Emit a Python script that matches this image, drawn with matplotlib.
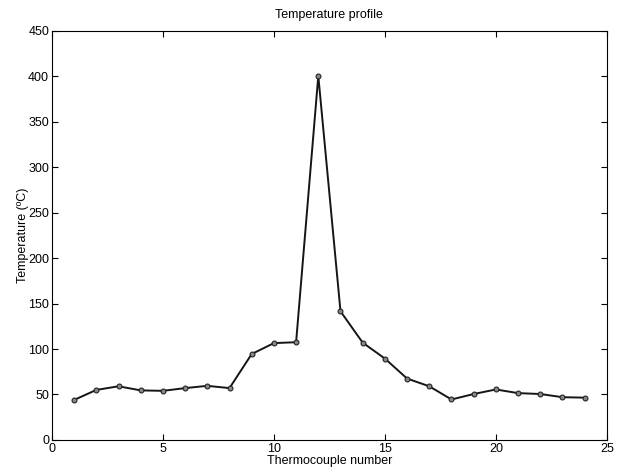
import numpy as np
from matplotlib import pyplot as plt

plt.rcParams['font.family'] = ['Liberation Sans', 'DejaVu Sans']

# thermocouple readings
tc_num = np.arange(1, 25)
temp = [44, 55, 59, 54.5, 54, 57, 59.5, 57, 94.5, 106.5, 107.5, 400.5,
        141.5, 107, 89.5, 67.5, 59, 44.5, 50.5, 55.5, 51.5, 50.5, 47, 46.5]

fig = plt.figure(figsize=(6.18, 4.68), dpi=100)
ax = fig.add_axes([0.084, 0.060, 0.898, 0.874])

ax.plot(tc_num, temp, '-', color='#151515', lw=1.4,
        marker='o', ms=3.5, mfc='#888888', mec='#222222', mew=0.8)

ax.set_xlim(0, 25)
ax.set_ylim(0, 450)
ax.set_xticks(np.arange(0, 26, 5))
ax.set_yticks(np.arange(0, 451, 50))
ax.tick_params(direction='in', top=True, right=True, labelsize=9, length=4, pad=2)
for s in ax.spines.values():
    s.set_linewidth(0.8)

ax.set_title('Temperature profile', fontsize=9, pad=9)
ax.set_xlabel('Thermocouple number', fontsize=9, labelpad=0)
ax.set_ylabel('Temperature (ºC)', fontsize=9, labelpad=-0.5)

plt.savefig('out.png', dpi=100)
